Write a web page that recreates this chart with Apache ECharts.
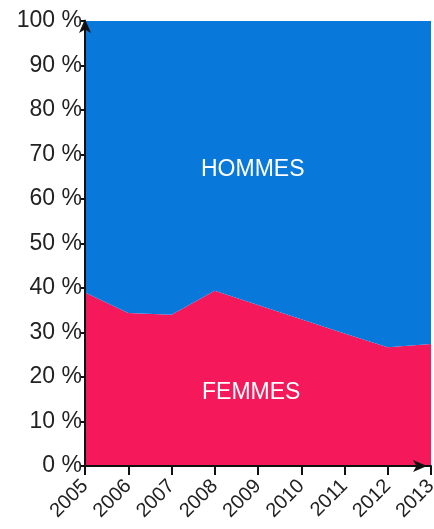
<!DOCTYPE html>
<html><head><meta charset="utf-8">
<script src="https://cdn.jsdelivr.net/npm/echarts@6/dist/echarts.min.js"></script>
<style>html,body{margin:0;padding:0;background:#fff;}#c{width:434px;height:529px;}</style>
</head><body><div id="c"></div>
<script>
const years = ['2005','2006','2007','2008','2009','2010','2011','2012','2013'];
const femmes = [39, 34.4, 34, 39.4, 36.2, 33, 29.8, 26.7, 27.4];
const hommes = [61, 65.6, 66, 60.6, 63.8, 67, 70.2, 73.3, 72.6];
const yTicks = [0,10,20,30,40,50,60,70,80,90,100];
const FONT = '"Liberation Sans Narrow", "Arial Narrow", "Liberation Sans", sans-serif';
const chart = echarts.init(document.getElementById('c'));
chart.setOption({
  animation: false,
  grid: {left: 85, right: 3, top: 21, bottom: 63, outerBoundsMode: 'none', containLabel: false},
  xAxis: {
    type: 'category', data: years, boundaryGap: false,
    axisLine: {show: true, lineStyle: {color: '#111', width: 2}, symbol: ['none','arrow'], symbolSize: [9,14], symbolOffset: [0,-4]},
    axisTick: {show: true, alignWithLabel: true, length: 9, lineStyle: {color: '#111', width: 2}},
    axisLabel: {rotate: 45, margin: 17, fontSize: 20, color: '#222', fontFamily: FONT, interval: 0, showMaxLabel: true},
    splitLine: {show: false}, z: 10
  },
  yAxis: {
    type: 'value', min: 0, max: 100, interval: 10,
    axisLine: {show: true, lineStyle: {color: '#111', width: 2}, symbol: ['none','arrow'], symbolSize: [9,14], symbolOffset: [0,2]},
    axisTick: {show: true, length: 5, lineStyle: {color: '#111', width: 2}},
    axisLabel: {formatter: v => yTicks.includes(v) ? v + ' %' : '', margin: 3, fontSize: 23, color: '#222', fontFamily: FONT},
    splitLine: {show: false}, z: 10
  },
  series: [
    {name: 'FEMMES', type: 'line', stack: 't', data: femmes, symbol: 'none',
     lineStyle: {width: 0}, areaStyle: {color: '#f5185a', opacity: 1}},
    {name: 'HOMMES', type: 'line', stack: 't', data: hommes, symbol: 'none',
     lineStyle: {width: 0}, areaStyle: {color: '#0878db', opacity: 1}}
  ],
  graphic: [
    {type: 'text', left: 201, top: 158, z: 100, style: {text: 'HOMMES', fill: '#fff', fontSize: 23, fontFamily: FONT}},
    {type: 'text', left: 202, top: 381, z: 100, style: {text: 'FEMMES', fill: '#fff', fontSize: 23, fontFamily: FONT}}
  ]
});
</script></body></html>
